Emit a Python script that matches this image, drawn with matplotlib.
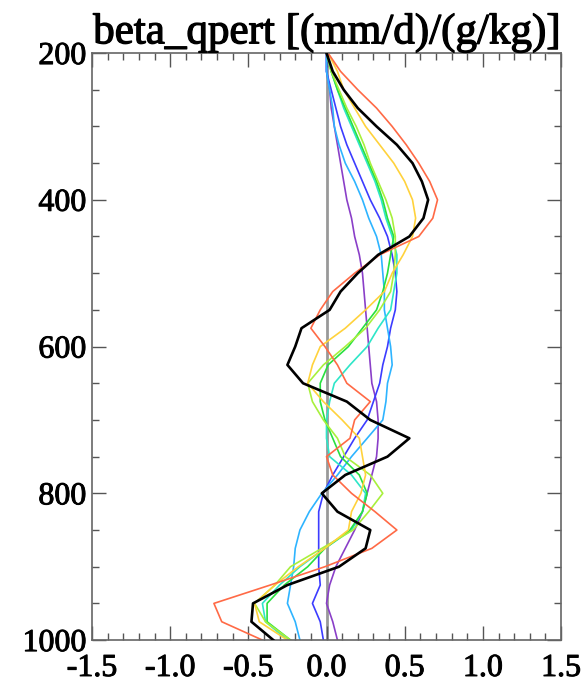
import numpy as np
import matplotlib
matplotlib.use("Agg")
import matplotlib.pyplot as plt
import matplotlib.patheffects as pe
from matplotlib.ticker import MultipleLocator

# pressure levels (hPa), 200 -> 1000 every 25
plev = [200, 225, 250, 275, 300, 325, 350, 375, 400, 425, 450, 475, 500,
        525, 550, 575, 600, 625, 650, 675, 700, 725, 750, 775, 800, 825,
        850, 875, 900, 925, 950, 975, 1000]

# beta_qpert profiles, one per experiment
purple = [0.0, 0.0, 0.02, 0.03, 0.05, 0.07, 0.09, 0.11, 0.13, 0.16, 0.18,
          0.21, 0.23, 0.24, 0.25, 0.26, 0.27, 0.28, 0.29, 0.32, 0.33, 0.33,
          0.32, 0.29, 0.26, 0.23, 0.18, 0.12, 0.06, 0.02, 0.0, 0.04, 0.07]
blue = [0.0, 0.0, 0.03, 0.06, 0.09, 0.13, 0.18, 0.23, 0.28, 0.34, 0.39,
        0.42, 0.44, 0.45, 0.44, 0.41, 0.39, 0.36, 0.34, 0.30, 0.26, 0.18,
        0.11, 0.04, -0.02, -0.05, -0.05, -0.05, -0.05, -0.04, -0.09, -0.04, -0.02]
skyblue = [0.0, 0.0, 0.02, 0.04, 0.05, 0.08, 0.12, 0.18, 0.23, 0.27, 0.32,
           0.35, 0.36, 0.37, 0.37, 0.39, 0.41, 0.42, 0.39, 0.38, 0.36, 0.26,
           0.16, 0.07, -0.03, -0.11, -0.17, -0.20, -0.21, -0.23, -0.25, -0.20, -0.17]
turq = [0.0, 0.03, 0.07, 0.11, 0.16, 0.21, 0.26, 0.31, 0.35, 0.38, 0.42,
        0.45, 0.45, 0.43, 0.41, 0.33, 0.26, 0.15, 0.05, 0.02, 0.0, 0.0,
        0.02, 0.16, 0.25, 0.23, 0.16, -0.01, -0.17, -0.30, -0.41, -0.39, -0.25]
green = [0.0, 0.03, 0.07, 0.12, 0.17, 0.22, 0.27, 0.32, 0.36, 0.39, 0.43,
         0.41, 0.39, 0.36, 0.32, 0.23, 0.14, 0.01, -0.04, -0.04, -0.01, 0.04,
         0.09, 0.21, 0.26, 0.23, 0.15, -0.01, -0.12, -0.27, -0.38, -0.38, -0.23]
ygreen = [0.0, 0.03, 0.08, 0.13, 0.19, 0.24, 0.28, 0.33, 0.38, 0.42, 0.44,
          0.44, 0.43, 0.41, 0.34, 0.25, 0.12, -0.02, -0.12, -0.09, -0.02, 0.07,
          0.12, 0.28, 0.36, 0.27, 0.17, -0.03, -0.23, -0.33, -0.46, -0.39, -0.23]
yellow = [0.01, 0.07, 0.11, 0.18, 0.25, 0.34, 0.43, 0.50, 0.55, 0.57, 0.55,
          0.49, 0.42, 0.37, 0.25, 0.12, -0.04, -0.09, -0.12, -0.02, 0.10, 0.21,
          0.23, 0.25, 0.22, 0.16, 0.14, -0.01, -0.18, -0.33, -0.46, -0.43, -0.25]
orange = [0.01, 0.09, 0.20, 0.32, 0.42, 0.51, 0.59, 0.66, 0.71, 0.68, 0.59,
          0.34, 0.18, 0.04, -0.04, -0.10, -0.01, 0.07, 0.13, 0.28, 0.18, 0.15,
          0.0, 0.04, 0.16, 0.31, 0.45, 0.29, -0.01, -0.36, -0.72, -0.67, -0.41]
black = [0.0, 0.04, 0.11, 0.20, 0.32, 0.45, 0.55, 0.61, 0.65, 0.62, 0.53,
         0.33, 0.20, 0.09, 0.02, -0.16, -0.20, -0.25, -0.15, 0.13, 0.28, 0.53,
         0.39, 0.12, -0.03, 0.07, 0.28, 0.25, 0.08, -0.25, -0.47, -0.48, -0.34]

series = [(purple, '#8a3fc8'), (blue, '#3c3cff'), (skyblue, '#2eb4ff'),
          (turq, '#2ee6c8'), (green, '#28e040'), (ygreen, '#a8f03c'),
          (yellow, '#ffd23c'), (orange, '#ff6a46')]

plt.rcParams['font.family'] = ['Liberation Serif', 'DejaVu Serif']

fig = plt.figure(figsize=(5.82, 6.89), dpi=100)
ax = fig.add_axes([0.158, 0.071, 0.806, 0.852])

ax.axvline(0, color='#999999', lw=2, zorder=1)
for vals, c in series:
    ax.plot(vals, plev, color=c, lw=1.2, zorder=2)
ax.plot(black, plev, color='black', lw=1.9, zorder=3)

ax.set_xlim(-1.5, 1.5)
ax.set_ylim(1000, 200)
ax.xaxis.set_major_locator(MultipleLocator(0.5))
ax.xaxis.set_minor_locator(MultipleLocator(0.1))
ax.yaxis.set_major_locator(MultipleLocator(200))
ax.yaxis.set_minor_locator(MultipleLocator(50))
ax.set_xticks([-1.5, -1.0, -0.5, 0.0, 0.5, 1.0, 1.5])
ax.set_xticklabels(['-1.5', '-1.0', '-0.5', '0.0', '0.5', '1.0', '1.5'])
ax.tick_params(which='both', direction='in', top=True, right=True,
               color='#555555', labelsize=23)
ax.tick_params(which='major', length=10, width=1)
ax.tick_params(which='minor', length=5, width=1)
ax.tick_params(axis='x', pad=10)
ax.tick_params(axis='y', pad=4)
for s in ax.spines.values():
    s.set_color('#666666')
    s.set_linewidth(1.2)

# slightly heavier strokes on the lettering
thick = [pe.withStroke(linewidth=0.7, foreground='black')]
for lab in ax.get_xticklabels() + ax.get_yticklabels():
    lab.set_path_effects(thick)

t = ax.set_title('beta_qpert [(mm/d)/(g/kg)]', fontsize=31, pad=7)
t.set_path_effects([pe.withStroke(linewidth=0.9, foreground='black')])

fig.savefig('out.png', dpi=100)
